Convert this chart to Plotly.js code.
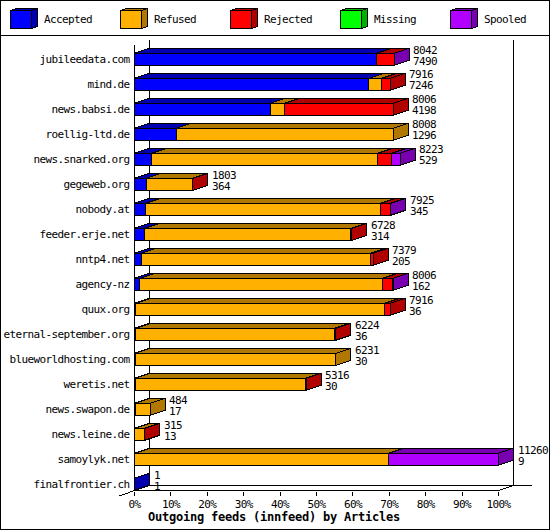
<!DOCTYPE html>
<html><head><meta charset="utf-8">
<script src="https://cdn.plot.ly/plotly-3.0.1.min.js"></script>
<style>
html,body{margin:0;padding:0;background:#fff;overflow:hidden}
#chart{width:550px;height:530px}
svg text{letter-spacing:-0.62px}
svg .gtitle{letter-spacing:-0.22px}
.shapelayer path{shape-rendering:crispEdges !important}
</style></head><body><div id="chart"></div>
<script>
const feeds=["jubileedata.com","mind.de","news.babsi.de","roellig-ltd.de","news.snarked.org","gegeweb.org","nobody.at","feeder.erje.net","nntp4.net","agency-nz","quux.org","eternal-september.org","blueworldhosting.com","weretis.net","news.swapon.de","news.leine.de","samoylyk.net","finalfrontier.ch"];
const totals=[8042,7916,8006,8008,8223,1803,7925,6728,7379,8006,7916,6224,6231,5316,484,315,11260,1];
const accepted=[7490,7246,4198,1296,529,364,345,314,205,162,36,36,30,30,17,13,9,1];
const refused=[0,400,444,6712,6993,1427,7271,6383,7101,7516,7704,6154,6201,5252,467,290,7854,0];
const rejected=[540,270,3364,0,434,12,300,31,73,318,176,34,0,34,0,12,0,0];
const missing=[0,0,0,0,0,0,0,0,0,0,0,0,0,0,0,0,0,0];
const spooled=[12,0,0,0,267,0,9,0,0,10,0,0,0,0,0,0,3397,0];
const seriesNames=["Accepted","Refused","Rejected","Missing","Spooled"];
const frontColors=["#0000ff","#ffb000","#ff0000","#00ff00","#b000ff"];
const darkColors=["#0000b0","#b07800","#b00000","#00b000","#7800b0"];
const tickPercents=[0,10,20,30,40,50,60,70,80,90,100];
const xTitle="Outgoing feeds (innfeed) by Articles";

const W=550,H=530;
const seriesValues=[accepted,refused,rejected,missing,spooled];
const maxTotal=Math.max(...totals);
// frame of the plot, in page pixels
const x0px=134.5,x100px=498.5,xEndPx=541,yTopPx=38,yBotPx=490.5,rowPx=25,row0Px=59.3,barPx=12;
const perPx=maxTotal/(x100px-x0px);
const dx=15*perPx,dy=5/rowPx,barH=barPx/rowPx;
const px=v=>v/W,py=v=>1-v/H;
const shapes=[];
const line=(a,b,c,d,layer)=>shapes.push({type:'line',xref:'paper',yref:'paper',x0:px(a),y0:py(b),x1:px(c),y1:py(d),layer:layer||'below',line:{color:'#000',width:1}});
// back wall
line(149.5,40,149.5,485.5);
line(513.5,40,513.5,485.5);
line(149.5,485.5,531.5,485.5);
line(119.5,496,134.5,490.5);
line(134.5,490.5,149.5,485.5);
line(498.5,490.5,513.5,485.5);
// 3-D faces of the bars
feeds.forEach((f,i)=>{
  let start=0,lastIdx=-1,lastEnd=0;
  const yt=i-barH/2,yb=i+barH/2;
  seriesValues.forEach((vals,s)=>{
    const v=vals[i]; if(!v) return;
    const end=start+v;
    shapes.push({type:'path',xref:'x',yref:'y',layer:'below',fillcolor:darkColors[s],line:{color:'#000',width:1},
      path:`M${start},${yt} L${start+dx},${yt-dy} L${end+dx},${yt-dy} L${end},${yt} Z`});
    start=end;lastIdx=s;lastEnd=end;
  });
  shapes.push({type:'path',xref:'x',yref:'y',layer:'below',fillcolor:darkColors[lastIdx],line:{color:'#000',width:1},
    path:`M${lastEnd},${yt} L${lastEnd+dx},${yt-dy} L${lastEnd+dx},${yb-dy} L${lastEnd},${yb} Z`});
});
// front axes
line(134.5,45,134.5,490.5,'above');
line(134.5,490.5,498.5,490.5,'above');
// page frame
shapes.push({type:'rect',xref:'paper',yref:'paper',x0:px(.5),y0:py(.5),x1:px(549.5),y1:py(529.5),layer:'above',line:{color:'#000',width:1},fillcolor:'rgba(0,0,0,0)'});
line(0,35.5,550,35.5,'above');

const annotations=[];
const textFont={family:'"DejaVu Sans Mono",monospace',size:11,color:'#000'};
// legend cubes
seriesNames.forEach((n,s)=>{
  const L=10.5+110*s,R=L+21,T=10.5,B=28.5,d=6,e=2;
  const P=(pts)=>pts.map((p,k)=>(k?'L':'M')+px(p[0])+','+py(p[1])).join(' ')+' Z';
  const st={type:'path',xref:'paper',yref:'paper',layer:'above',line:{color:'#000',width:1}};
  shapes.push({...st,fillcolor:darkColors[s],path:P([[L,T],[L+d,T-e],[R+d,T-e],[R,T]])});
  shapes.push({...st,fillcolor:darkColors[s],path:P([[R,T],[R+d,T-e],[R+d,B-e],[R,B]])});
  shapes.push({...st,fillcolor:frontColors[s],path:P([[L,T],[R,T],[R,B],[L,B]])});
  annotations.push({xref:'paper',yref:'paper',x:px(L+32.5),y:py(20),xanchor:'left',yanchor:'middle',showarrow:false,borderpad:0,text:n,font:textFont});
});
// value labels at the end of each bar
feeds.forEach((f,i)=>{
  const base={xref:'x',yref:'y',x:totals[i],y:i,xanchor:'left',yanchor:'middle',showarrow:false,borderpad:0,xshift:18,font:textFont};
  annotations.push({...base,text:String(totals[i]),yshift:9.3});
  annotations.push({...base,text:String(accepted[i]),yshift:-1.7});
});

const traces=seriesNames.map((n,s)=>({type:'bar',orientation:'h',name:n,y:feeds,x:seriesValues[s],width:barH,
  marker:{color:frontColors[s],line:{color:'#000',width:1}},hoverinfo:'skip'}));

const layout={width:W,height:H,margin:{l:0,r:0,t:0,b:0,pad:0},paper_bgcolor:'#fff',plot_bgcolor:'rgba(0,0,0,0)',
  showlegend:false,barmode:'stack',shapes,annotations,font:textFont,
  title:{text:xTitle,xref:'paper',yref:'paper',x:274/W,y:1-517/H,xanchor:'center',yanchor:'middle',
    font:{family:'"DejaVu Sans Mono",monospace',size:12,color:'#000',weight:'bold'}},
  xaxis:{domain:[x0px/W,xEndPx/W],range:[0,(xEndPx-x0px)*perPx],tickmode:'array',
    tickvals:tickPercents.map(p=>p*maxTotal/100),ticktext:tickPercents.map(p=>p+'%'),
    ticks:'outside',ticklen:4,tickcolor:'#000',tickwidth:1,showgrid:false,zeroline:false,showline:false,
    tickfont:textFont,tickangle:0,ticklabelstandoff:-1},
  yaxis:{domain:[1-yBotPx/H,1-yTopPx/H],type:'category',categoryorder:'array',categoryarray:feeds,
    range:[(yBotPx-row0Px)/rowPx,(yTopPx-row0Px)/rowPx],dtick:1,ticks:'',showgrid:false,zeroline:false,showline:false,
    tickfont:textFont,ticklabelstandoff:4}
};
Plotly.newPlot('chart',traces,layout,{staticPlot:true,displayModeBar:false});
</script></body></html>
